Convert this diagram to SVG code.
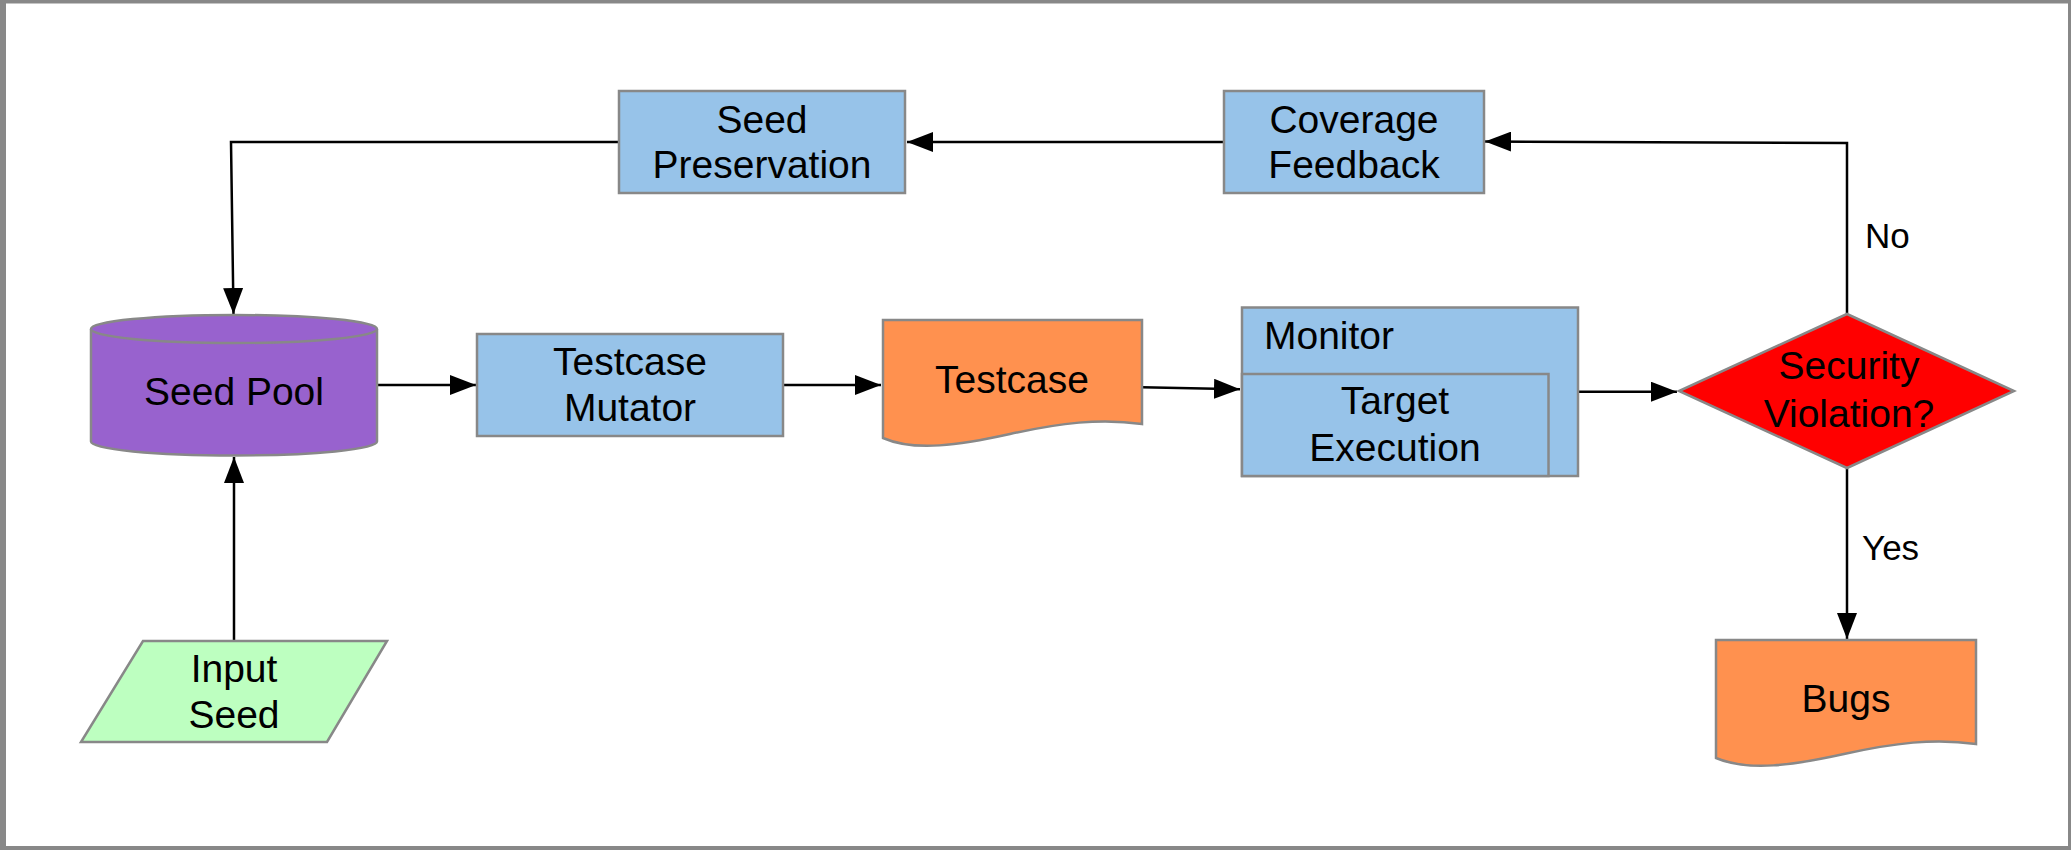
<svg xmlns="http://www.w3.org/2000/svg" width="2071" height="850" viewBox="0 0 2071 850">
  <style>
    .box { stroke: #888888; stroke-width: 2.5; }
    .proc { fill: #97c3e9; }
    .doc { fill: #ff914f; }
    .lbl { font-family: "Liberation Sans", Arial, sans-serif; font-size: 39px; fill: #000000; text-anchor: middle; }
    .edge-lbl { font-family: "Liberation Sans", Arial, sans-serif; font-size: 35px; fill: #000000; }
    .wire { fill: none; stroke: #000000; stroke-width: 2.5; marker-end: url(#arrow); }
  </style>
  <defs>
    <marker id="arrow" markerUnits="userSpaceOnUse" markerWidth="26" markerHeight="20" refX="26" refY="10" orient="auto">
      <path d="M0,0 L26,10 L0,20 Z" fill="#000000"/>
    </marker>
  </defs>

  <!-- frame -->
  <rect x="0" y="0" width="2071" height="850" fill="#888888"/>
  <rect x="6" y="3.5" width="2062" height="842.5" fill="#ffffff"/>

  <!-- connectors -->
  <g id="connectors">
    <path class="wire" d="M619,142 L231,142 L233.5,314"/>
    <path class="wire" d="M234,641 L234,457"/>
    <path class="wire" d="M378,385 L476,385"/>
    <path class="wire" d="M783,385 L881,385"/>
    <path class="wire" d="M1142,387.3 L1240,389.3"/>
    <path class="wire" d="M1578,391.7 L1677,391.7"/>
    <path class="wire" d="M1847,314 L1847,143 L1485,141.5"/>
    <path class="wire" d="M1224,142 L907,142"/>
    <path class="wire" d="M1847,468 L1847,639"/>
    <text class="edge-lbl" x="1865" y="247.5">No</text>
    <text class="edge-lbl" x="1862" y="560">Yes</text>
  </g>

  <!-- Seed Preservation -->
  <g id="seed-preservation">
    <rect class="box proc" x="619" y="91" width="286" height="102"/>
    <text class="lbl" x="762" y="132.5">Seed</text>
    <text class="lbl" x="762" y="178">Preservation</text>
  </g>

  <!-- Coverage Feedback -->
  <g id="coverage-feedback">
    <rect class="box proc" x="1224" y="91" width="260" height="102"/>
    <text class="lbl" x="1354" y="132.5">Coverage</text>
    <text class="lbl" x="1354" y="178">Feedback</text>
  </g>

  <!-- Seed Pool (cylinder) -->
  <g id="seed-pool">
    <path class="box" fill="#9862ce" d="M91,329 L91,441.5 A143,14 0 0 0 377,441.5 L377,329"/>
    <ellipse class="box" fill="#9862ce" cx="234" cy="329" rx="143" ry="14"/>
    <text class="lbl" x="234" y="405">Seed Pool</text>
  </g>

  <!-- Testcase Mutator -->
  <g id="testcase-mutator">
    <rect class="box proc" x="477" y="334" width="306" height="102"/>
    <text class="lbl" x="630" y="375">Testcase</text>
    <text class="lbl" x="630" y="420.7">Mutator</text>
  </g>

  <!-- Testcase (document) -->
  <g id="testcase">
    <path class="box doc" d="M883,320 L1142,320 L1142,424 C1100,418 1060,423 1010,434 C960,445 915,452 883,438 Z"/>
    <text class="lbl" x="1012" y="393">Testcase</text>
  </g>

  <!-- Monitor with nested Target Execution -->
  <g id="monitor">
    <rect class="box proc" x="1242" y="307.5" width="336" height="168.5"/>
    <text class="lbl" x="1264" y="349.3" style="text-anchor:start">Monitor</text>
  </g>
  <g id="target-execution">
    <rect class="box proc" x="1242" y="374" width="306.5" height="102"/>
    <text class="lbl" x="1395" y="414.3">Target</text>
    <text class="lbl" x="1395" y="460.7">Execution</text>
  </g>

  <!-- Security Violation? (decision) -->
  <g id="security-violation">
    <path class="box" fill="#ff0000" d="M1847,314 L2014,391 L1847,468 L1679,391 Z"/>
    <text class="lbl" x="1849" y="379">Security</text>
    <text class="lbl" x="1849" y="426.7">Violation?</text>
  </g>

  <!-- Input Seed (parallelogram) -->
  <g id="input-seed">
    <path class="box" fill="#bdffc0" d="M143,641 L387,641 L327,742 L81,742 Z"/>
    <text class="lbl" x="234" y="682">Input</text>
    <text class="lbl" x="234" y="728">Seed</text>
  </g>

  <!-- Bugs (document) -->
  <g id="bugs">
    <path class="box doc" d="M1716,640 L1976,640 L1976,744 C1934,738 1894,743 1844,754 C1794,765 1749,772 1716,758 Z"/>
    <text class="lbl" x="1846" y="712">Bugs</text>
  </g>
</svg>
